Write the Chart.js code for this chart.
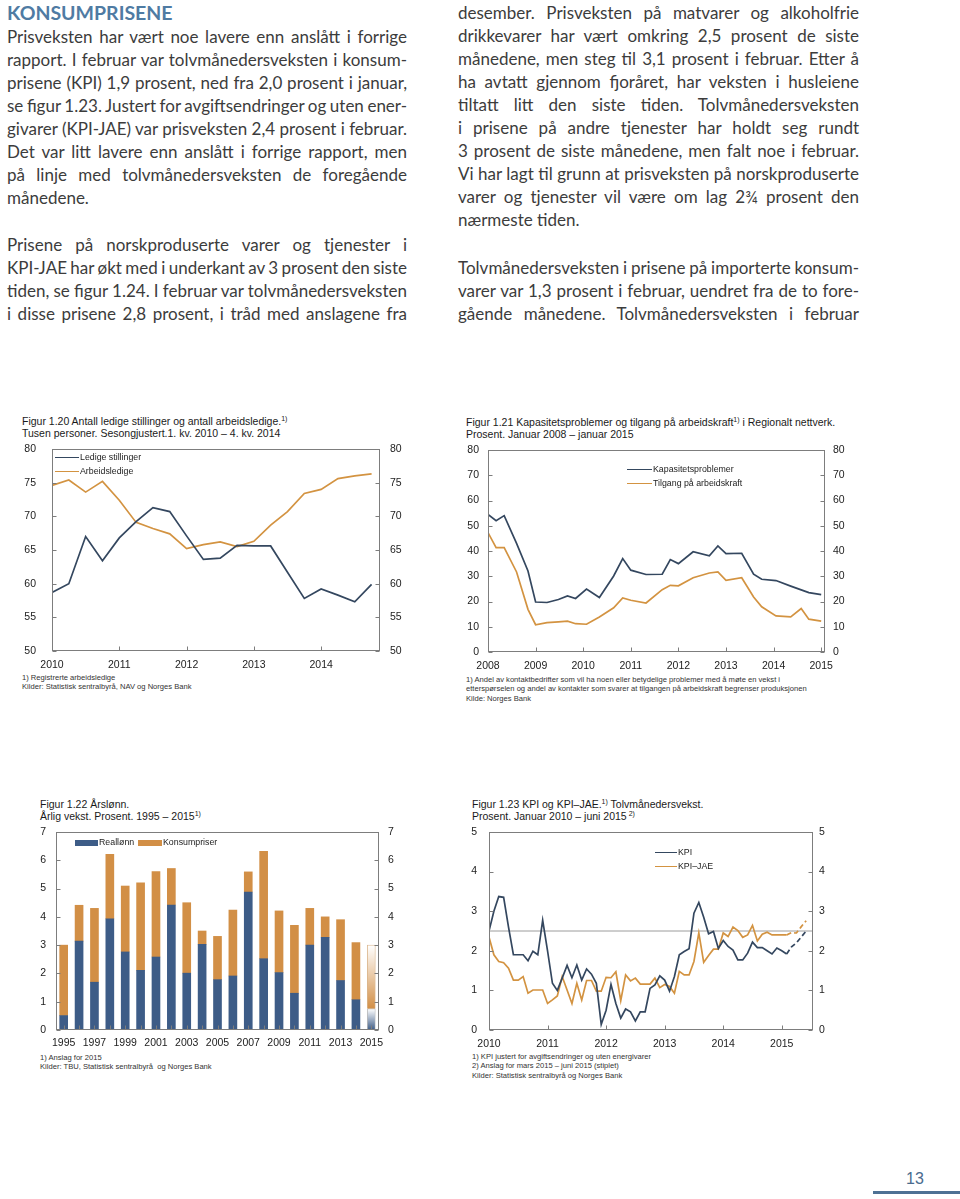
<!DOCTYPE html>
<html><head><meta charset="utf-8">
<script src="https://cdn.jsdelivr.net/npm/chart.js@4.4.1/dist/chart.umd.min.js"></script>
<style>
body{margin:0;background:#fff;width:960px;height:1199px;position:relative;overflow:hidden;font-family:'Liberation Sans',Arial,sans-serif;color:#222;}
.col{position:absolute;font-family:Lato,'Open Sans',sans-serif;font-size:17px;word-spacing:-1px;color:#3c3c3c;line-height:23px;}
.col div{height:23px;white-space:nowrap;text-align:justify;text-align-last:justify;}
.col div.e{text-align-last:left;word-spacing:0;}
.h{position:absolute;left:7px;top:1px;font-family:Lato,sans-serif;font-weight:700;font-size:19.5px;color:#4f7ba3;line-height:23px;}
.ttl{position:absolute;font-size:10.5px;line-height:11.5px;color:#1a1a1a;white-space:nowrap;}
.ttl sup,.note sup{font-size:7px;vertical-align:4px;line-height:0;}
.note{position:absolute;font-size:7.6px;line-height:9.4px;color:#333;white-space:nowrap;}
.lg{position:absolute;font-size:8.8px;line-height:14px;color:#222;white-space:nowrap;}
.lg span{display:inline-block;vertical-align:middle;margin-right:1px;}
.cv{position:absolute;}
.pg{position:absolute;left:906px;top:1170px;font-size:16px;color:#4a6b8e;}
.pgl{position:absolute;left:873px;top:1191px;width:87px;height:3px;background:#4e7194;}
</style></head>
<body>
<div class="h">KONSUMPRISENE</div>
<div class="col" style="left:7px;top:25px;width:400px">
<div>Prisveksten har vært noe lavere enn anslått i forrige</div>
<div>rapport. I februar var tolvmånedersveksten i konsum-</div>
<div>prisene (KPI) 1,9 prosent, ned fra 2,0 prosent i januar,</div>
<div>se figur 1.23. Justert for avgiftsendringer og uten ener-</div>
<div>givarer (KPI-JAE) var prisveksten 2,4 prosent i februar.</div>
<div>Det var litt lavere enn anslått i forrige rapport, men</div>
<div>på linje med tolvmånedersveksten de foregående</div>
<div class="e">månedene.</div>
</div>
<div class="col" style="left:7px;top:233px;width:400px">
<div>Prisene på norskproduserte varer og tjenester i</div>
<div>KPI-JAE har økt med i underkant av 3 prosent den siste</div>
<div>tiden, se figur 1.24. I februar var tolvmånedersveksten</div>
<div>i disse prisene 2,8 prosent, i tråd med anslagene fra</div>
</div>
<div class="col" style="left:458px;top:1px;width:401px">
<div>desember. Prisveksten på matvarer og alkoholfrie</div>
<div>drikkevarer har vært omkring 2,5 prosent de siste</div>
<div>månedene, men steg til 3,1 prosent i februar. Etter å</div>
<div>ha avtatt gjennom fjoråret, har veksten i husleiene</div>
<div>tiltatt litt den siste tiden. Tolvmånedersveksten</div>
<div>i prisene på andre tjenester har holdt seg rundt</div>
<div>3 prosent de siste månedene, men falt noe i februar.</div>
<div>Vi har lagt til grunn at prisveksten på norskproduserte</div>
<div>varer og tjenester vil være om lag 2¾ prosent den</div>
<div class="e">nærmeste tiden.</div>
</div>
<div class="col" style="left:458px;top:256px;width:401px">
<div>Tolvmånedersveksten i prisene på importerte konsum-</div>
<div>varer var 1,3 prosent i februar, uendret fra de to fore-</div>
<div>gående månedene. Tolvmånedersveksten i februar</div>
</div>

<!-- Figur 1.20 -->
<div class="ttl" style="left:22px;top:416px">Figur 1.20 Antall ledige stillinger og antall arbeidsledige.<sup>1)</sup><br>Tusen personer. Sesongjustert.1. kv. 2010 – 4. kv. 2014</div>
<div class="cv" style="left:20px;top:440px"><canvas id="c1" width="400" height="230"></canvas></div>
<div class="lg" style="left:55px;top:450px"><span style="width:24px;border-top:1.7px solid #34475f"></span>Ledige stillinger<br><span style="width:24px;border-top:1.7px solid #d39341"></span>Arbeidsledige</div>
<div class="note" style="left:22px;top:673px">1) Registrerte arbeidsledige<br>Kilder: Statistisk sentralbyrå, NAV og Norges Bank</div>

<!-- Figur 1.21 -->
<div class="ttl" style="left:466px;top:417px">Figur 1.21 Kapasitetsproblemer og tilgang på arbeidskraft<sup>1)</sup> i Regionalt nettverk.<br>Prosent. Januar 2008 – januar 2015</div>
<div class="cv" style="left:460px;top:440px"><canvas id="c2" width="400" height="230"></canvas></div>
<div class="lg" style="left:627px;top:462px"><span style="width:25px;border-top:1.7px solid #34475f"></span>Kapasitetsproblemer<br><span style="width:25px;border-top:1.7px solid #d39341"></span>Tilgang på arbeidskraft</div>
<div class="note" style="left:466px;top:675px">1) Andel av kontaktbedrifter som vil ha noen eller betydelige problemer med å møte en vekst i<br>etterspørselen og andel av kontakter som svarer at tilgangen på arbeidskraft begrenser produksjonen<br>Kilde: Norges Bank</div>

<!-- Figur 1.22 -->
<div class="ttl" style="left:40px;top:799px">Figur 1.22 Årslønn.<br>Årlig vekst. Prosent. 1995 – 2015<sup>1)</sup></div>
<div class="cv" style="left:20px;top:825px"><canvas id="c3" width="400" height="225"></canvas></div>
<div class="lg" style="left:75px;top:835px"><span style="width:23px;height:6px;background:#3d5c87"></span>Reallønn</div>
<div class="lg" style="left:138px;top:835px"><span style="width:24px;height:6px;background:#d28f46"></span>Konsumpriser</div>
<div class="note" style="left:40px;top:1053px">1) Anslag for 2015<br>Kilder: TBU, Statistisk sentralbyrå&nbsp; og Norges Bank</div>

<!-- Figur 1.23 -->
<div class="ttl" style="left:472px;top:799px">Figur 1.23 KPI og KPI–JAE.<sup>1)</sup> Tolvmånedersvekst.<br>Prosent. Januar 2010 – juni 2015<sup> 2)</sup></div>
<div class="cv" style="left:460px;top:825px"><canvas id="c4" width="400" height="225"></canvas></div>
<div class="lg" style="left:655px;top:845px"><span style="width:22px;border-top:1.7px solid #34475f"></span>KPI<br><span style="width:22px;border-top:1.7px solid #d39341"></span>KPI–JAE</div>
<div class="note" style="left:472px;top:1052px">1) KPI justert for avgiftsendringer og uten energivarer<br>2) Anslag for mars 2015 – juni 2015 (stiplet)<br>Kilder: Statistisk sentralbyrå og Norges Bank</div>

<div class="pg">13</div>
<div class="pgl"></div>

<script>
// ---- Figur 1.20 (kvartal 1.kv 2010 - 4.kv 2014, tusen personer)
const c1Years = [2010, 2011, 2012, 2013, 2014];
const ledigeStillinger = [58.7, 60.0, 67.0, 63.4, 66.8, 69.2, 71.3, 70.7, 67.1, 63.6, 63.8, 65.7, 65.6, 65.6, 61.7, 57.8, 59.2, 58.3, 57.3, 59.9];
const arbeidsledige = [74.6, 75.4, 73.6, 75.2, 72.4, 69.1, 68.2, 67.4, 65.2, 65.8, 66.2, 65.5, 66.3, 68.7, 70.7, 73.4, 74.0, 75.6, 76.0, 76.3];

// ---- Figur 1.21 (regionalt nettverk, prosent)
const nettverkDatoer = [2008.0, 2008.17, 2008.34, 2008.6, 2008.84, 2009.0, 2009.24, 2009.48, 2009.67, 2009.84, 2010.07, 2010.34, 2010.64, 2010.83, 2011.0, 2011.32, 2011.66, 2011.83, 2012.0, 2012.31, 2012.65, 2012.83, 2013.0, 2013.33, 2013.58, 2013.75, 2014.05, 2014.36, 2014.58, 2014.74, 2015.0];
const kapasitet = [54.5, 52.0, 54.0, 43.0, 32.1, 19.8, 19.6, 20.8, 22.2, 21.2, 24.9, 21.6, 30.1, 37.0, 32.4, 30.7, 30.8, 36.6, 35.0, 39.7, 38.1, 42.0, 39.0, 39.1, 30.8, 28.8, 28.3, 26.1, 24.6, 23.5, 22.7];
const tilgang = [47.3, 41.3, 41.3, 31.7, 16.9, 10.8, 11.6, 11.9, 12.2, 11.2, 11.0, 13.9, 17.5, 21.4, 20.5, 19.4, 24.7, 26.4, 26.2, 29.4, 31.3, 31.7, 28.4, 29.4, 21.8, 17.9, 14.3, 13.9, 17.2, 13.0, 12.2];

// ---- Figur 1.22 (årslønn, prosent)
const aar = ['1995','1996','1997','1998','1999','2000','2001','2002','2003','2004','2005','2006','2007','2008','2009','2010','2011','2012','2013','2014','2015'];
const reallonn = [0.51, 3.14, 1.69, 3.93, 2.76, 2.11, 2.58, 4.42, 2.01, 3.03, 1.78, 1.91, 4.88, 2.52, 2.03, 1.30, 3.00, 3.28, 1.75, 1.07, 0.75];
const konsumpriser = [2.49, 1.27, 2.61, 2.28, 2.33, 3.09, 3.02, 1.29, 2.49, 0.47, 1.53, 2.33, 0.71, 3.80, 2.18, 2.40, 1.30, 0.72, 2.15, 2.02, 2.25];

// ---- Figur 1.23 (jan 2010 - jun 2015, prosent)
const kpiYears = [2010, 2011, 2012, 2013, 2014, 2015];
const kpi = [2.5, 3.0, 3.37, 3.35, 2.6, 1.9, 1.9, 1.9, 1.75, 1.99, 1.9, 2.77,
  2.0, 1.18, 1.0, 1.31, 1.63, 1.32, 1.64, 1.26, 1.54, 1.41, 1.18, 0.14,
  0.5, 1.15, 0.67, 0.3, 0.53, 0.46, 0.23, 0.46, 0.46, 1.05, 1.14, 1.37,
  1.26, 0.98, 1.35, 1.9, 1.98, 2.05, 2.95, 3.22, 2.85, 2.43, 2.49, 2.06,
  2.26, 2.11, 2.02, 1.77, 1.77, 1.94, 2.22, 2.08, 2.08, 2.0, 1.92, 2.07,
  2.0, 1.92, 2.1, 2.2, 2.35, 2.5];
const kpiJae = [2.35, 1.9, 1.73, 1.7, 1.56, 1.26, 1.26, 1.35, 0.93, 1.01, 1.01, 1.01,
  0.67, 0.76, 0.86, 1.35, 1.01, 0.67, 1.18, 0.76, 1.25, 1.25, 0.98, 0.98,
  1.33, 1.32, 1.47, 0.74, 1.39, 1.24, 1.31, 1.16, 1.16, 1.16, 1.31, 1.07,
  1.15, 1.1, 0.93, 1.48, 1.39, 1.39, 1.73, 2.45, 1.71, 1.88, 2.04, 2.04,
  2.45, 2.36, 2.6, 2.51, 2.34, 2.4, 2.64, 2.25, 2.42, 2.47, 2.4, 2.4,
  2.4, 2.4, 2.46, 2.45, 2.61, 2.76];
const prognoseFra = 61; // feb 2015, stiplet etter dette
const inflasjonsmaal = 2.5;

const BLUE = '#34475f', ORANGE = '#d39341', BARBLUE = '#3d5c87', BARORANGE = '#d28f46', AXIS = '#7d7d7d';
const FONT = {family: "'Liberation Sans', Arial, sans-serif", size: 10.5};

// box round the plot + short inward tick marks
const frame = {
  id: 'frame',
  afterDatasetsDraw(chart){
    const {ctx, chartArea: a, scales} = chart;
    const L = Math.round(a.left)+0.5, R = Math.round(a.right)-0.5, T = Math.round(a.top)+0.5, B = Math.round(a.bottom)-0.5;
    ctx.save();
    ctx.strokeStyle = AXIS; ctx.lineWidth = 1;
    ctx.strokeRect(L, T, R-L, B-T);
    ctx.beginPath();
    scales.y.ticks.forEach((t,i)=>{
      const p = Math.round(scales.y.getPixelForTick(i))+0.5;
      ctx.moveTo(L, p); ctx.lineTo(L+4, p);
      ctx.moveTo(R, p); ctx.lineTo(R-4, p);
    });
    scales.x.ticks.forEach((t,i)=>{
      const p = Math.round(scales.x.getPixelForTick(i))+0.5;
      ctx.moveTo(p, B); ctx.lineTo(p, B-4);
    });
    ctx.stroke();
    ctx.restore();
  }
};

// fixed axis widths so the plot box lands where the original has it;
// tick padding is otherwise counted into the layout padding too
function yAxes(min, max, step, lw, rw, lpad, rpad){
  const base = {min, max, grid:{display:false, drawTicks:false}, border:{display:false},
    ticks:{stepSize:step, color:'#222', font:FONT}};
  const fit = w => s => { s.width = w; s.paddingTop = 0; s.paddingBottom = 0; };
  return {
    y: {...base, position:'left', ticks:{...base.ticks, padding:lpad}, afterFit: fit(lw)},
    y2: {...base, position:'right', ticks:{...base.ticks, padding:rpad}, afterFit: fit(rw)}
  };
}
function baseOpts(padTop){
  return {responsive:false, animation:false, devicePixelRatio:1,
    layout:{padding:{top:padTop, left:0, right:0, bottom:0}},
    plugins:{legend:{display:false}, tooltip:{enabled:false}},
    elements:{point:{radius:0}, line:{borderWidth:1.7, tension:0}}};
}
const pts = (xs, ys) => ys.map((v,i)=>({x: xs[i], y: v}));

// Figur 1.20
new Chart(document.getElementById('c1'), {
  type:'line',
  data:{datasets:[
    {label:'Ledige stillinger', data: ledigeStillinger.map((v,i)=>({x:i, y:v})), borderColor:BLUE},
    {label:'Arbeidsledige', data: arbeidsledige.map((v,i)=>({x:i, y:v})), borderColor:ORANGE}
  ]},
  options:{...baseOpts(9), scales:{
    x:{type:'linear', min:0, max:19.5, grid:{display:false, drawTicks:false}, border:{display:false},
      ticks:{stepSize:4, includeBounds:false, padding:8, color:'#222', font:FONT, maxRotation:0,
        callback: v => c1Years[v/4]}, afterFit: s=>{ s.height = 19; }},
    ...yAxes(50, 80, 5, 32, 40, 16, 10)
  }},
  plugins:[frame]
});

// Figur 1.21
new Chart(document.getElementById('c2'), {
  type:'line',
  data:{datasets:[
    {label:'Kapasitetsproblemer', data: pts(nettverkDatoer, kapasitet), borderColor:BLUE},
    {label:'Tilgang på arbeidskraft', data: pts(nettverkDatoer, tilgang), borderColor:ORANGE}
  ]},
  options:{...baseOpts(10), scales:{
    x:{type:'linear', min:2008, max:2015.08, grid:{display:false, drawTicks:false}, border:{display:false},
      ticks:{stepSize:1, includeBounds:false, padding:8, color:'#222', font:FONT, maxRotation:0,
        callback: v => String(v)}, afterFit: s=>{ s.height = 18; }},
    ...yAxes(0, 80, 10, 28, 35, 9, 8)
  }},
  plugins:[frame]
});

// Figur 1.22
const last = aar.length - 1;
function fade(color, from, to){
  return ctx => {
    if (ctx.dataIndex !== last) return color;
    const ch = ctx.chart;
    if (!ch.chartArea) return color;
    const y = ch.scales.y;
    const g = ch.ctx.createLinearGradient(0, y.getPixelForValue(from()), 0, y.getPixelForValue(to()));
    g.addColorStop(0, color); g.addColorStop(1, '#ffffff');
    return g;
  };
}
new Chart(document.getElementById('c3'), {
  type:'bar',
  data:{labels: aar, datasets:[
    {label:'Reallønn', data: reallonn, backgroundColor: fade(BARBLUE, ()=>0, ()=>reallonn[last]),
      borderColor: c => c.dataIndex === last ? '#b9b9b9' : 'rgba(0,0,0,0)', borderWidth: c => c.dataIndex === last ? 0.8 : 0,
      barThickness: 8},
    {label:'Konsumpriser', data: konsumpriser, backgroundColor: fade(BARORANGE, ()=>reallonn[last], ()=>reallonn[last]+konsumpriser[last]),
      borderColor: c => c.dataIndex === last ? '#d9b48a' : 'rgba(0,0,0,0)', borderWidth: c => c.dataIndex === last ? 0.8 : 0,
      barThickness: 8}
  ]},
  options:{...baseOpts(7), scales:{
    x:{stacked:true, offset:true, grid:{display:false, drawTicks:false}, border:{display:false},
      ticks:{autoSkip:false, maxRotation:0, padding:7, color:'#222', font:FONT,
        callback: (v,i) => i % 2 === 0 ? aar[i] : ''}, afterFit: s=>{ s.height = 20; }},
    ...(()=>{ const a = yAxes(0, 7, 1, 36, 41, 10, 9); a.y.stacked = true; return a; })()
  }},
  plugins:[frame]
});

// Figur 1.23
const dashed = c => c.p0DataIndex >= prognoseFra ? [5, 3] : undefined;
new Chart(document.getElementById('c4'), {
  type:'line',
  data:{datasets:[
    {label:'mål', data:[{x:0, y:inflasjonsmaal}, {x:66.4, y:inflasjonsmaal}], borderColor:'#9c9c9c', borderWidth:1, order:3},
    {label:'KPI', data: kpi.map((v,i)=>({x:i, y:v})), borderColor:BLUE, segment:{borderDash: dashed}, order:1},
    {label:'KPI–JAE', data: kpiJae.map((v,i)=>({x:i, y:v})), borderColor:ORANGE, segment:{borderDash: dashed}, order:2}
  ]},
  options:{...baseOpts(7), scales:{
    x:{type:'linear', min:0, max:66.4, grid:{display:false, drawTicks:false}, border:{display:false},
      ticks:{stepSize:12, includeBounds:false, padding:8, color:'#222', font:FONT, maxRotation:0,
        callback: v => kpiYears[v/12]}, afterFit: s=>{ s.height = 20; }},
    ...yAxes(0, 5, 1, 29, 47, 12, 6)
  }},
  plugins:[frame]
});
</script>
</body></html>
